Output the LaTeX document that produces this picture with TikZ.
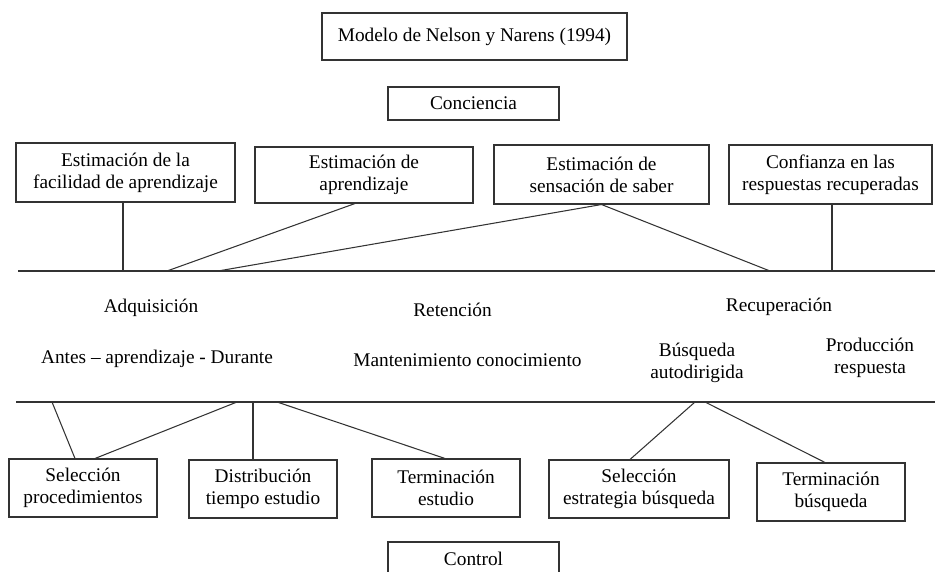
\documentclass[tikz,border=0pt]{standalone}
\usepackage{fontspec}
\setmainfont{Liberation Serif}
\usepackage{tikz}

\tikzset{
  caja/.style={draw=black!80,line width=0.6pt,align=center,inner sep=0pt,
    minimum height=1.16cm,font=\fontsize{11}{12.6}\selectfont},
  etiqueta/.style={align=center,inner sep=0pt,font=\fontsize{11}{12.6}\selectfont},
  linea/.style={draw=black!80,line width=0.6pt}
}

\begin{document}
\begin{tikzpicture}
\clip (0,0) rectangle (18.7,11.42);

% Title and top label
\node[caja,minimum width=6.10cm,minimum height=0.94cm] (titulo) at (9.49,10.69)
    {Modelo de Nelson y Narens (1994)};
\node[caja,minimum width=3.42cm,minimum height=0.66cm] (conciencia) at (9.47,9.35)
    {Conciencia};

% Monitoring boxes
\node[caja,minimum width=4.38cm,minimum height=1.18cm] (facilidad) at (2.51,7.97)
    {Estimación de la\\facilidad de aprendizaje};
\node[caja,minimum width=4.36cm,minimum height=1.12cm] (aprend) at (7.28,7.92)
    {Estimación de\\aprendizaje};
\node[caja,minimum width=4.30cm,minimum height=1.18cm] (saber) at (12.03,7.93)
    {Estimación de\\sensación de saber};
\node[caja,minimum width=4.06cm,minimum height=1.18cm] (confianza) at (16.61,7.93)
    {Confianza en las\\respuestas recuperadas};

% Upper line
\coordinate (sup-w) at (0.36,6);
\coordinate (sup-e) at (18.7,6);
\draw[linea] (sup-w) -- (sup-e);
\coordinate (s1) at (3.34,6);
\coordinate (s2) at (4.36,6);
\coordinate (s3) at (15.40,6);

\draw[linea] ([xshift=-0.05cm]facilidad.south) -- ([xshift=-0.05cm]facilidad.south |- sup-w);
\draw[linea] ([xshift=-0.18cm]aprend.south) -- (s1);
\draw[linea] (saber.south) -- (s2);
\draw[linea] (saber.south) -- (s3);
\draw[linea] ([xshift=0.03cm]confianza.south) -- ([xshift=0.03cm]confianza.south |- sup-w);

% Phases
\node[etiqueta] (adq) at (3.02,5.26) {Adquisición};
\node[etiqueta] (ret) at (9.05,5.22) {Retención};
\node[etiqueta] (rec) at (15.58,5.28) {Recuperación};

\node[etiqueta] (antes) at (3.14,4.24) {Antes -- aprendizaje - Durante};
\node[etiqueta] (mant) at (9.35,4.22) {Mantenimiento conocimiento};
\node[etiqueta] (busq) at (13.94,4.17) {Búsqueda\\autodirigida};
\node[etiqueta] (prod) at (17.40,4.26) {Producción\\respuesta};

% Lower line
\coordinate (inf-w) at (0.32,3.38);
\coordinate (inf-e) at (18.7,3.38);
\draw[linea] (inf-w) -- (inf-e);
\coordinate (i1) at (1.04,3.38);
\coordinate (i2) at (4.74,3.38);
\coordinate (i3) at (5.54,3.38);
\coordinate (i4) at (13.90,3.38);
\coordinate (i5) at (14.10,3.38);

% Control boxes
\node[caja,minimum width=2.96cm] (selproc) at (1.66,1.66)
    {Selección\\procedimientos};
\node[caja,minimum width=2.96cm] (distrib) at (5.26,1.64)
    {Distribución\\tiempo estudio};
\node[caja,minimum width=2.96cm] (termest) at (8.92,1.66)
    {Terminación\\estudio};
\node[caja,minimum width=3.60cm] (selest) at (12.78,1.64)
    {Selección\\estrategia búsqueda};
\node[caja,minimum width=2.96cm] (termbus) at (16.62,1.58)
    {Terminación\\búsqueda};

\draw[linea] (i1) -- ([xshift=-0.16cm]selproc.north);
\draw[linea] (i2) -- ([xshift=0.24cm]selproc.north);
\draw[linea] ([xshift=-0.20cm]distrib.north |- inf-w) -- ([xshift=-0.20cm]distrib.north);
\draw[linea] (i3) -- ([xshift=-0.02cm]termest.north);
\draw[linea] (i4) -- ([xshift=-0.18cm]selest.north);
\draw[linea] (i5) -- ([xshift=-0.12cm]termbus.north);

% Bottom label
\node[caja,minimum width=3.42cm,minimum height=0.66cm] (control) at (9.47,0.25)
    {Control};

\end{tikzpicture}
\end{document}
